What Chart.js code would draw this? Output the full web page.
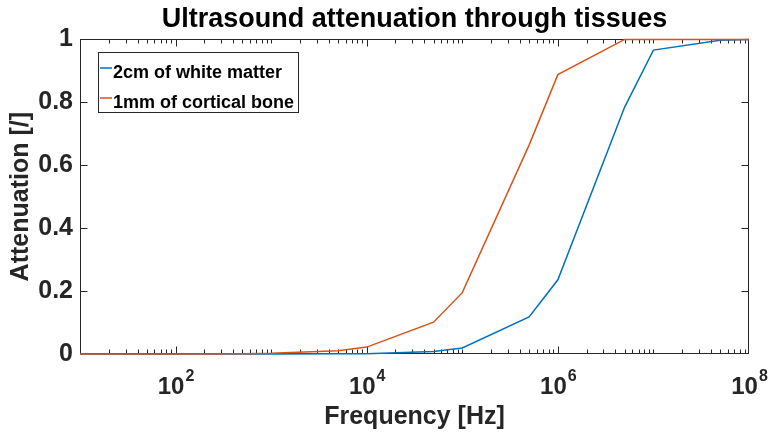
<!DOCTYPE html>
<html>
<head>
<meta charset="utf-8">
<script src="https://cdn.jsdelivr.net/npm/chart.js@4.4.0/dist/chart.umd.min.js"></script>
<style>
    html, body { margin: 0; padding: 0; background: #ffffff; }
    #wrap { width: 770px; height: 438px; }
</style>
</head>
<body>
<div id="wrap"><canvas id="attenuationChart" width="770" height="438"></canvas></div>
<script>
// Datos
const frequencies = [10, 50, 100, 500, 1e3, 5e3, 1e4, 5e4, 1e5, 5e5, 1e6, 5e6, 1e7, 5e7, 1e8];
const whiteMatter = [0, 0, 0, 0, 0, 0.0005, 0.001, 0.008, 0.019, 0.118, 0.236, 0.785, 0.966, 0.997, 1];
const corticalBone = [0, 0, 0, 0.001, 0.002, 0.01, 0.022, 0.101, 0.195, 0.664, 0.888, 1, 1, 1, 1];
const seriesLabels = ['2cm of white matter', '1mm of cortical bone'];
const seriesColors = ['#0072BD', '#D95319'];
const xTickExponents = [2, 4, 6, 8];

const FONT = '"Liberation Sans", Arial, Helvetica, sans-serif';
const AXIS_COLOR = '#262626';

// Plugin para ejes estilo MATLAB: caja, marcas interiores, etiquetas 10^n y leyenda
const matlabAxes = {
    id: 'matlabAxes',
    beforeDatasetsDraw(chart) {
        const ctx = chart.ctx;
        const area = chart.chartArea;
        const xs = chart.scales.x;
        const ys = chart.scales.y;
        const L = Math.round(area.left) + 0.5;
        const R = Math.round(area.right) - 0.5;
        const T = Math.round(area.top) + 0.5;
        const B = Math.round(area.bottom) - 0.5;

        ctx.save();
        ctx.strokeStyle = AXIS_COLOR;
        ctx.lineWidth = 1;
        ctx.strokeRect(L, T, R - L, B - T);

        // marcas del eje x (log)
        ctx.beginPath();
        for (let k = 1; k <= 8; k++) {
            for (let m = 1; m <= 9; m++) {
                if (k === 8 && m > 1) break;
                const v = m * Math.pow(10, k);
                const px = Math.round(xs.getPixelForValue(v)) + 0.5;
                if (px <= L + 1 || px >= R - 1) continue;
                const len = (m === 1 && k % 2 === 0) ? 7 : 4;
                ctx.moveTo(px, B); ctx.lineTo(px, B - len);
                ctx.moveTo(px, T); ctx.lineTo(px, T + len);
            }
        }
        // marcas del eje y
        ys.ticks.forEach(t => {
            const py = Math.round(ys.getPixelForValue(t.value)) + 0.5;
            if (py <= T + 1 || py >= B - 1) return;
            ctx.moveTo(L, py); ctx.lineTo(L + 7, py);
            ctx.moveTo(R, py); ctx.lineTo(R - 7, py);
        });
        ctx.stroke();
        ctx.restore();
    },
    afterDraw(chart) {
        const ctx = chart.ctx;
        const xs = chart.scales.x;
        ctx.save();

        // etiquetas 10^n
        ctx.fillStyle = AXIS_COLOR;
        ctx.textBaseline = 'alphabetic';
        ctx.textAlign = 'left';
        xTickExponents.forEach(e => {
            const px = xs.getPixelForValue(Math.pow(10, e));
            ctx.font = 'bold 24px ' + FONT;
            const w1 = ctx.measureText('10').width;
            ctx.font = 'bold 16px ' + FONT;
            const w2 = ctx.measureText(String(e)).width;
            const x0 = px - (w1 + w2) / 2;
            ctx.font = 'bold 24px ' + FONT;
            ctx.fillText('10', x0, 394);
            ctx.font = 'bold 16px ' + FONT;
            ctx.fillText(String(e), x0 + w1 + 1, 381);
        });

        // leyenda
        const lx = 98, ly = 52, lw = 200, lh = 60;
        ctx.fillStyle = '#ffffff';
        ctx.fillRect(lx, ly, lw, lh);
        ctx.strokeStyle = AXIS_COLOR;
        ctx.lineWidth = 1;
        ctx.strokeRect(lx + 0.5, ly + 0.5, lw, lh);
        chart.data.datasets.forEach((ds, i) => {
            const cy = 71 + i * 30;
            ctx.strokeStyle = ds.borderColor;
            ctx.lineWidth = 1.5;
            ctx.beginPath();
            ctx.moveTo(100, cy - 3);
            ctx.lineTo(112, cy - 3);
            ctx.stroke();
            ctx.fillStyle = '#000000';
            ctx.font = 'bold 18px ' + FONT;
            ctx.fillText(ds.label, 113, cy + 6.5);
        });
        ctx.restore();
    }
};

const ctx = document.getElementById('attenuationChart');
const chart = new Chart(ctx.getContext('2d'), {
    type: 'line',
    data: {
        labels: frequencies,
        datasets: [
            {
                label: seriesLabels[0],
                data: frequencies.map((f, i) => ({ x: f, y: whiteMatter[i] })),
                borderColor: seriesColors[0],
                backgroundColor: seriesColors[0],
                borderWidth: 1.5,
                pointRadius: 0,
                fill: false,
                clip: false,
                order: 1,
                tension: 0
            },
            {
                label: seriesLabels[1],
                data: frequencies.map((f, i) => ({ x: f, y: corticalBone[i] })),
                borderColor: seriesColors[1],
                backgroundColor: seriesColors[1],
                borderWidth: 1.5,
                pointRadius: 0,
                fill: false,
                clip: false,
                order: 0,
                tension: 0
            }
        ]
    },
    options: {
        responsive: false,
        animation: false,
        devicePixelRatio: 1,
        layout: { padding: { left: 0, right: 21, top: 0, bottom: 0 } },
        plugins: {
            legend: { display: false },
            tooltip: { enabled: false },
            title: {
                display: true,
                fullSize: false,
                text: 'Ultrasound attenuation through tissues',
                color: '#000000',
                font: { family: FONT, size: 27, weight: 'bold' },
                padding: { top: 3, bottom: 4 }
            }
        },
        scales: {
            x: {
                type: 'logarithmic',
                min: 10,
                max: 1e8,
                grid: { display: false, drawTicks: false },
                border: { display: false },
                ticks: { display: false },
                title: {
                    display: true,
                    text: 'Frequency [Hz]',
                    color: AXIS_COLOR,
                    font: { family: FONT, size: 25, weight: 'bold' },
                    padding: { top: 0, bottom: 6 }
                },
                afterFit: scale => { scale.height = 84; }
            },
            y: {
                min: 0,
                max: 1,
                grid: { display: false, drawTicks: false },
                border: { display: false },
                ticks: {
                    stepSize: 0.2,
                    padding: 7,
                    color: AXIS_COLOR,
                    font: { family: FONT, size: 25, weight: 'bold' },
                    callback: v => String(parseFloat(Number(v).toFixed(1)))
                },
                title: {
                    display: true,
                    text: 'Attenuation [/]',
                    color: AXIS_COLOR,
                    font: { family: FONT, size: 25, weight: 'bold' },
                    padding: { top: 6, bottom: 0 }
                },
                afterFit: scale => { scale.width = 80; }
            }
        }
    },
    plugins: [matlabAxes]
});
</script>
</body>
</html>
